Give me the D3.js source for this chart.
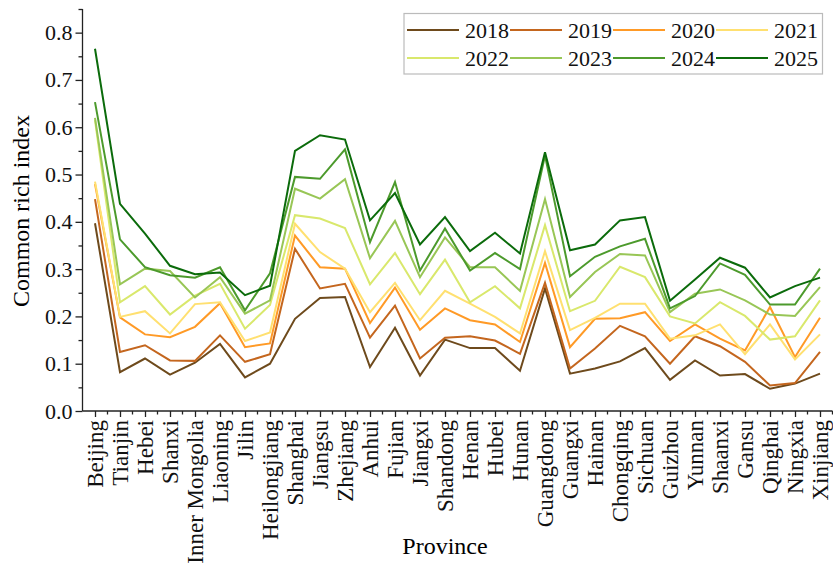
<!DOCTYPE html>
<html>
<head>
<meta charset="utf-8">
<script src="https://cdn.jsdelivr.net/npm/d3@7"></script>
<style>
  body { margin: 0; background: #fff; }
  svg { font-family: "Liberation Serif", "Times New Roman", serif; }
</style>
</head>
<body>
<svg id="chart" width="833" height="581"></svg>
<script>
var provinces = ["Beijing", "Tianjin", "Hebei", "Shanxi", "Inner Mongolia", "Liaoning", "Jilin",
  "Heilongjiang", "Shanghai", "Jiangsu", "Zhejiang", "Anhui", "Fujian", "Jiangxi", "Shandong",
  "Henan", "Hubei", "Hunan", "Guangdong", "Guangxi", "Hainan", "Chongqing", "Sichuan", "Guizhou",
  "Yunnan", "Shaanxi", "Gansu", "Qinghai", "Ningxia", "Xinjiang"];

var years = ["2018", "2019", "2020", "2021", "2022", "2023", "2024", "2025"];

var v2018 = [0.397, 0.082, 0.111, 0.077, 0.102, 0.142, 0.071, 0.100, 0.195, 0.239, 0.241, 0.093, 0.176, 0.075, 0.151,
  0.133, 0.133, 0.085, 0.259, 0.079, 0.090, 0.105, 0.133, 0.066, 0.107, 0.075, 0.078, 0.047, 0.058, 0.079];
var v2019 = [0.448, 0.125, 0.139, 0.107, 0.106, 0.160, 0.104, 0.120, 0.343, 0.259, 0.269, 0.155, 0.223, 0.111, 0.155,
  0.158, 0.149, 0.121, 0.271, 0.090, 0.132, 0.180, 0.158, 0.100, 0.158, 0.137, 0.104, 0.054, 0.059, 0.125];
var v2020 = [0.480, 0.198, 0.162, 0.156, 0.178, 0.228, 0.135, 0.143, 0.371, 0.304, 0.301, 0.186, 0.261, 0.172, 0.217,
  0.192, 0.183, 0.146, 0.313, 0.135, 0.195, 0.196, 0.209, 0.148, 0.183, 0.153, 0.128, 0.220, 0.114, 0.197];
var v2021 = [0.485, 0.199, 0.211, 0.164, 0.226, 0.230, 0.148, 0.166, 0.396, 0.336, 0.301, 0.209, 0.271, 0.192, 0.254,
  0.227, 0.199, 0.164, 0.338, 0.171, 0.197, 0.227, 0.227, 0.153, 0.160, 0.183, 0.120, 0.183, 0.109, 0.162];
var v2022 = [0.615, 0.230, 0.264, 0.204, 0.244, 0.269, 0.174, 0.224, 0.414, 0.407, 0.387, 0.268, 0.334, 0.247, 0.320,
  0.230, 0.264, 0.217, 0.393, 0.211, 0.233, 0.305, 0.283, 0.200, 0.185, 0.230, 0.201, 0.151, 0.158, 0.234];
var v2023 = [0.620, 0.268, 0.301, 0.296, 0.240, 0.283, 0.206, 0.234, 0.470, 0.449, 0.490, 0.323, 0.402, 0.283, 0.367,
  0.304, 0.304, 0.254, 0.448, 0.241, 0.294, 0.332, 0.329, 0.209, 0.248, 0.257, 0.234, 0.204, 0.201, 0.262];
var v2024 = [0.653, 0.363, 0.304, 0.287, 0.282, 0.304, 0.213, 0.291, 0.495, 0.491, 0.553, 0.357, 0.484, 0.297, 0.386,
  0.297, 0.334, 0.300, 0.540, 0.285, 0.326, 0.348, 0.364, 0.217, 0.243, 0.312, 0.288, 0.225, 0.225, 0.301];
var v2025 = [0.766, 0.438, 0.375, 0.307, 0.289, 0.293, 0.245, 0.265, 0.550, 0.583, 0.574, 0.403, 0.461, 0.352, 0.410,
  0.338, 0.377, 0.333, 0.547, 0.340, 0.352, 0.403, 0.410, 0.233, 0.278, 0.324, 0.303, 0.240, 0.264, 0.282];

var series = [v2018, v2019, v2020, v2021, v2022, v2023, v2024, v2025];
var colors = ["#6e4a1c", "#c4661e", "#ff9a26", "#ffe070", "#d9e86c", "#98c656", "#4c9a2c", "#0b6b0b"];

var yMajor = [0, 0.1, 0.2, 0.3, 0.4, 0.5, 0.6, 0.7, 0.8];
var yMinor = [0.05, 0.15, 0.25, 0.35, 0.45, 0.55, 0.65, 0.75, 0.85];

var svg = d3.select("#chart"),
    plotLeft = 82.5, plotRight = 832.5, plotBottom = 411, plotTop = 9;

var x = d3.scalePoint().domain(provinces).range([plotLeft, plotRight]).padding(0.5);
var y = d3.scaleLinear().domain([0, 0.85]).range([plotBottom, plotTop]);

// axes
var gx = svg.append("g")
    .attr("transform", "translate(0," + plotBottom + ")")
    .call(d3.axisBottom(x).tickSize(6).tickSizeOuter(0));
gx.select(".domain").attr("d", "M" + plotLeft + ",0H" + plotRight);

// minor ticks halfway between provinces
gx.selectAll(".minor")
  .data(provinces)
  .enter().append("line")
    .attr("class", "minor")
    .attr("x1", function(d) { return x(d) + x.step() / 2; })
    .attr("x2", function(d) { return x(d) + x.step() / 2; })
    .attr("y1", 0).attr("y2", 3.5);

var gy = svg.append("g")
    .attr("transform", "translate(" + plotLeft + ",0)")
    .call(d3.axisLeft(y).tickValues(yMajor).tickFormat(d3.format(".1f")).tickSize(7).tickSizeOuter(0));
gy.select(".domain").attr("d", "M0," + plotBottom + "V" + plotTop);

svg.append("g")
    .attr("transform", "translate(" + plotLeft + ",0)")
    .call(d3.axisLeft(y).tickValues(yMinor).tickFormat("").tickSize(4).tickSizeOuter(0))
    .select(".domain").remove();

svg.selectAll(".domain, .tick line, .minor")
    .attr("stroke", "#222").attr("stroke-width", 1.3);
svg.selectAll(".tick text")
    .attr("fill", "#111").style("font-size", "22px")
    .style("font-family", "'Liberation Serif', serif");
gy.selectAll(".tick text").attr("x", -10);
gx.selectAll(".tick text")
    .attr("transform", "rotate(-90)")
    .attr("x", -9).attr("y", 0).attr("dy", "0.34em")
    .style("text-anchor", "end")
    .style("font-size", "23px");

// lines
var line = d3.line()
    .x(function(d, i) { return x(provinces[i]); })
    .y(function(d) { return y(d); });

svg.append("g").selectAll("path")
  .data(series)
  .enter().append("path")
    .attr("d", line)
    .attr("fill", "none")
    .attr("stroke", function(d, i) { return colors[i]; })
    .attr("stroke-width", 2)
    .attr("stroke-linejoin", "miter");

// axis titles
svg.append("text")
    .attr("x", 445).attr("y", 554)
    .attr("text-anchor", "middle")
    .style("font-size", "24px")
    .text("Province");

svg.append("text")
    .attr("transform", "translate(29,211) rotate(-90)")
    .attr("text-anchor", "middle")
    .style("font-size", "24px")
    .text("Common rich index");

// legend
var legend = svg.append("g");
legend.append("rect")
    .attr("x", 404).attr("y", 13.5).attr("width", 418.5).attr("height", 60.5)
    .attr("fill", "#fff").attr("stroke", "#bbb").attr("stroke-width", 1.2);

var items = legend.selectAll(".item")
  .data(years)
  .enter().append("g")
    .attr("class", "item")
    .attr("transform", function(d, i) {
      return "translate(" + (407 + (i % 4) * 103) + "," + (i < 4 ? 30 : 58) + ")";
    });
items.append("line")
    .attr("x1", 0).attr("x2", 52)
    .attr("stroke", function(d, i) { return colors[i]; })
    .attr("stroke-width", 2);
items.append("text")
    .attr("x", 58).attr("dy", "0.35em")
    .style("font-size", "22px")
    .attr("fill", "#111")
    .text(function(d) { return d; });
</script>
</body>
</html>
